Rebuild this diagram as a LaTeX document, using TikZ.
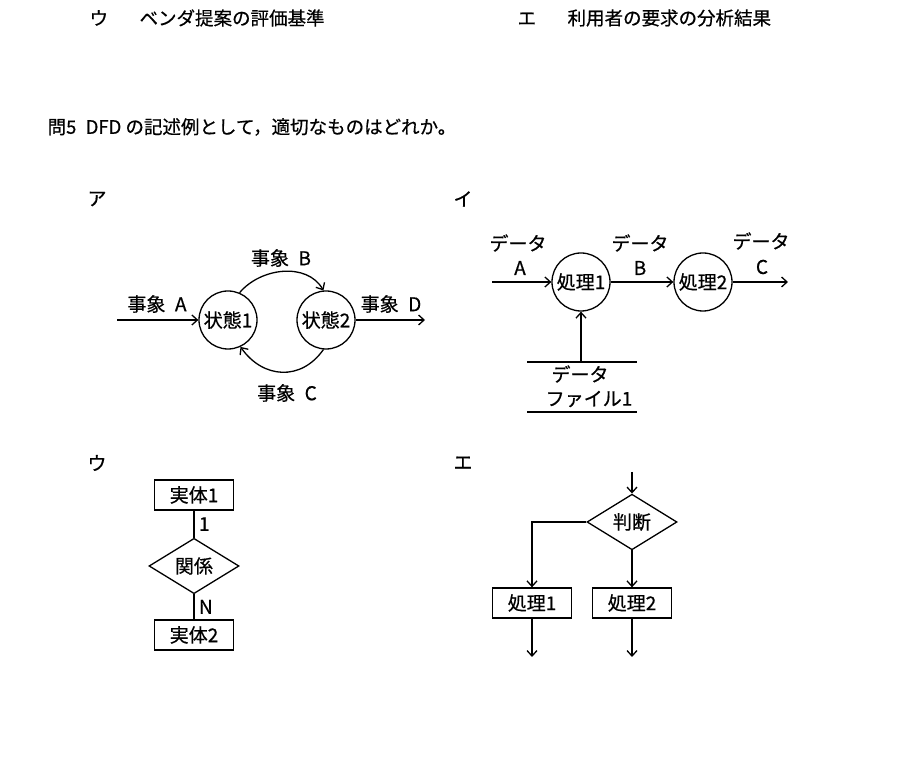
\documentclass[tikz,border=0pt]{standalone}
\usepackage{fontspec}
\setmainfont{Noto Sans CJK JP}[FakeBold=0.6]
\usetikzlibrary{shapes.geometric,arrows.meta}

\begin{document}
\begin{tikzpicture}[x=1pt,y=1pt,line width=1.3pt,>={Straight Barb[length=5.5pt,width=10pt]},
    every node/.style={font=\fontsize{19}{22}\selectfont},
    head/.style={anchor=west,inner sep=0pt,font=\fontsize{18.5}{22}\selectfont},
    state/.style={draw,circle,minimum size=58pt,inner sep=0pt},
    entity/.style={draw,rectangle,minimum width=79pt,minimum height=30pt,inner sep=0pt},
    choice/.style={draw,diamond,minimum width=90pt,minimum height=48pt,inner sep=0pt}]
    \useasboundingbox (0,0) rectangle (900,781);

    \node[head] (optU) at (89,763) {ウ\hspace{1.7em}ベンダ提案の評価基準};
    \node[head] (optE) at (517,763) {エ\hspace{1.7em}利用者の要求の分析結果};
    \node[head] (q5) at (47,654) {問5\enspace DFD の記述例として，適切なものはどれか。};

    \node (labA) at (97,582) {ア};
    \node (labI) at (463,582) {イ};
    \node (labU) at (97,318) {ウ};
    \node (labE) at (463,318) {エ};

    % state transitions
    \node[state] (s1) at (228,461) {状態1};
    \node[state] (s2) at (326,461) {状態2};
    \coordinate (evA) at (117,461);
    \coordinate (evD) at (425,461);
    \draw[->] (evA) -- (s1);
    \draw[->] (s2) -- (evD);
    \draw[->] (s1.67) to[out=50,in=120] (s2.95);
    \draw[->] (s2.265) to[out=235,in=305,looseness=1.2] (s1.295);
    \node (tA) at (157,477) {事象\enspace A};
    \node (tD) at (391,477) {事象\enspace D};
    \node (tB) at (281,523) {事象\enspace B};
    \node (tC) at (287,388) {事象\enspace C};

    % data flow
    \node[state] (p1) at (581,499) {処理1};
    \node[state] (p2) at (703,499) {処理2};
    \coordinate (dA) at (492,499);
    \coordinate (dC) at (788,499);
    \draw[->] (dA) -- (p1);
    \draw[->] (p1) -- (p2);
    \draw[->] (p2) -- (dC);
    \node (dataA) at (518,538) {データ};
    \node (nameA) at (520,513) {A};
    \node (dataB) at (640,538) {データ};
    \node (nameB) at (640,513) {B};
    \node (dataC) at (761,540) {データ};
    \node (nameC) at (762,514) {C};
    \coordinate (st1) at (527,419);
    \coordinate (st2) at (637,419);
    \coordinate (sb1) at (527,369);
    \coordinate (sb2) at (637,369);
    \draw (st1) -- (st2);
    \draw (sb1) -- (sb2);
    \node (file1) at (580,407) {データ};
    \node (file2) at (589,382) {ファイル1};
    \draw[->] (p1.south |- st1) -- (p1.south);

    % entity relation
    \node[entity] (e1) at (194,286) {実体1};
    \node[choice] (rel) at (194,215) {関係};
    \node[entity] (e2) at (194,146) {実体2};
    \draw (e1) -- node[right=1pt]{1} (rel);
    \draw (rel) -- node[right=1pt]{N} (e2);

    % flow chart
    \coordinate (fin) at (632,309);
    \node[choice] (judge) at (632,259) {判断};
    \node[entity] (q1) at (532,178) {処理1};
    \node[entity] (q2) at (632,178) {処理2};
    \coordinate (q1out) at (532,124);
    \coordinate (q2out) at (632,124);
    \draw[->] (fin) -- (judge);
    \draw[->] (judge.west) -| (q1);
    \draw[->] (judge) -- (q2);
    \draw[->] (q1) -- (q1out);
    \draw[->] (q2) -- (q2out);
\end{tikzpicture}
\end{document}
